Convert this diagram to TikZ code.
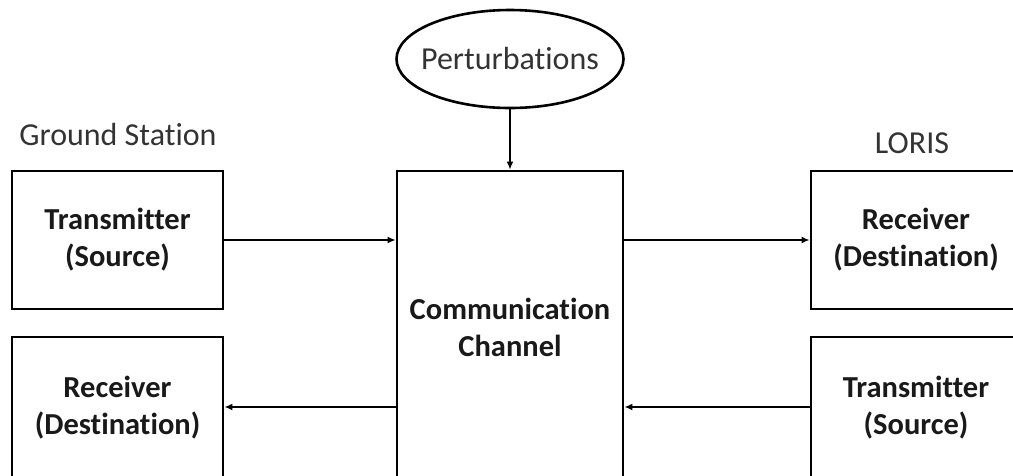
\documentclass[tikz,border=0pt]{standalone}
\usepackage{fontspec}
\setmainfont[Ligatures=NoCommon]{Carlito}
\usetikzlibrary{arrows.meta,shapes.geometric}
\begin{document}
\begin{tikzpicture}[x=1pt,y=-1pt,
  blk/.style={draw=black,line width=2.8pt,rectangle,inner sep=0pt,align=center,
    font=\fontsize{30.5}{37}\selectfont\bfseries,text=black!90},
  lbl/.style={font=\fontsize{32}{38}\selectfont,text=black!80,inner sep=0pt},
  conn/.style={line width=1.8pt,-{Latex[length=8pt,width=7pt]}}]
\useasboundingbox (0,0) rectangle (1013,475);
\clip (0,0) rectangle (1013,475);
% boxes
\node[blk,minimum width=211pt,minimum height=138pt] (gtx) at (117.5,240) {Transmitter\\(Source)};
\node[blk,minimum width=211pt,minimum height=142pt] (grx) at (117.5,408) {Receiver\\(Destination)};
\node[blk,minimum width=226pt,minimum height=312pt] (ch) at (510,327) {Communication\\Channel};
\node[blk,minimum width=210pt,minimum height=138pt] (lrx) at (916,240) {Receiver\\(Destination)};
\node[blk,minimum width=210pt,minimum height=142pt] (ltx) at (916,408) {Transmitter\\(Source)};
\node[ellipse,draw=black,line width=2.6pt,minimum width=227pt,minimum height=98pt,
  inner xsep=-9pt,inner ysep=0pt,
  font=\fontsize{32}{38}\selectfont,text=black!80] (pert) at (510,59) {Perturbations};
% labels
\node[lbl] (gs) at (118,135) {Ground Station};
\node[lbl] (loris) at (912,143) {LORIS};
% connectors
\draw[conn] (pert.south) -- (ch.north);
\draw[conn] (gtx.east) -- (gtx.east -| ch.west);
\draw[conn] (lrx.west -| ch.east) -- (lrx.west);
\coordinate (bl) at (ch.west |- 0,407);
\coordinate (br) at (ch.east |- 0,407);
\draw[conn] (bl) -- (bl -| grx.east);
\draw[conn] (br -| ltx.west) -- (br);
\end{tikzpicture}
\end{document}
